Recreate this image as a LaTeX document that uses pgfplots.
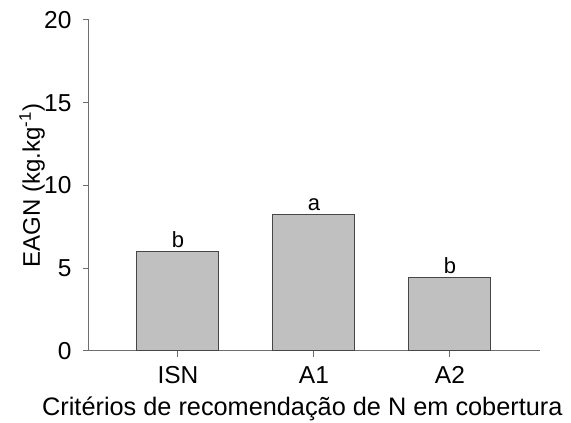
\documentclass[border=0pt]{standalone}
\usepackage{pgfplots}
\pgfplotsset{compat=1.18}
\usepackage{fontspec}
\setmainfont{Liberation Sans}
\definecolor{barfill}{RGB}{192,192,192}
\definecolor{bardraw}{RGB}{70,70,70}
\definecolor{axisgray}{RGB}{110,110,110}
\pgfplotstableread{
x y label
0 6.0 b
1 8.22 a
2 4.43 b
}\datatable
\begin{document}
\begin{tikzpicture}
\useasboundingbox (0,0) rectangle (571pt,423pt);
\begin{axis}[
  at={(89pt,72pt)}, anchor=south west,
  scale only axis, width=451pt, height=331pt,
  xmin=-0.654, xmax=2.662, ymin=0, ymax=20,
  axis x line*=bottom, axis y line*=left,
  axis line style={-, draw=axisgray, line width=1pt},
  xtick={0,1,2}, xticklabels={ISN,A1,A2},
  ytick={0,5,10,15,20}, minor tick num=0,
  tick align=outside, major tick length=6pt,
  tick style={draw=axisgray, line width=1pt},
  /pgf/number format/assume math mode=true,
  tick label style={font=\fontsize{24.5}{24.5}\selectfont},
  yticklabel style={xshift=-8pt},
  xticklabel style={yshift=-6pt},
  xlabel={Critérios de recomendação de N em cobertura},
  xlabel style={font=\fontsize{25.3}{25.3}\selectfont, at={([yshift=-65pt]axis description cs:0.473,0)}, anchor=base},
  ylabel={EAGN (kg.kg\textsuperscript{-1})},
  ylabel style={font=\fontsize{24}{24}\selectfont, at={([xshift=-57pt]axis description cs:0,0.5)}, anchor=center},
]
\addplot[ybar, bar width=0.603, fill=barfill, draw=bardraw, line width=1pt,
  nodes near coords, point meta=explicit symbolic,
  nodes near coords style={font=\fontsize{22}{22}\selectfont, anchor=south, text=black, yshift=0pt}]
  table[x=x, y=y, meta=label] {\datatable};
\end{axis}
\end{tikzpicture}
\end{document}
